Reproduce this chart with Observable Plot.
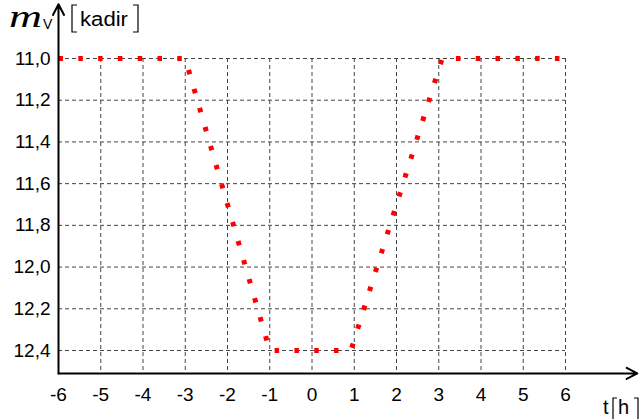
<!DOCTYPE html>
<html>
<head>
<meta charset="utf-8">
<script src="https://cdn.jsdelivr.net/npm/d3@7"></script>
<script src="https://cdn.jsdelivr.net/npm/@observablehq/plot@0.6"></script>
<style>
  html, body { margin: 0; padding: 0; background: #fff; }
</style>
</head>
<body>
<div id="chart"></div>
<script>
// Data
const t  = [-6, -3, -1, 0.92, 3.08, 6];
const mV = [11.0, 11.0, 12.4, 12.4, 11.0, 11.0];
const xTicks = [-6, -5, -4, -3, -2, -1, 0, 1, 2, 3, 4, 5, 6];
const yTicks = [11.0, 11.2, 11.4, 11.6, 11.8, 12.0, 12.2, 12.4];
const yAxisLabel = "m";
const yAxisSub = "V";
const yAxisUnit = "kadir";
const xAxisLabel = "t";
const xAxisUnit = "h";

const data = t.map((d, i) => ({t: d, mV: mV[i]}));

const yAxisBottom = 12.51, yAxisTop = 10.74, xAxisRight = 7.7;
const font = "'Liberation Sans', Arial, sans-serif";

const chart = Plot.plot({
  width: 641,
  height: 419,
  marginLeft: 58,
  marginRight: 76,
  marginTop: 58,
  marginBottom: 69,
  x: {domain: [-6, 6], label: null},
  y: {domain: [11.0, 12.4], reverse: true, label: null},
  style: {fontFamily: font, fontSize: "19px", color: "#000", background: "#fff", overflow: "visible"},
  marks: [
    Plot.ruleX(xTicks.filter(d => d > -6), {y1: 11.0, y2: yAxisBottom, stroke: "#444", strokeWidth: 1, strokeDasharray: "4,3"}),
    Plot.ruleY(yTicks, {x1: -6, x2: 6, stroke: "#444", strokeWidth: 1, strokeDasharray: "4,3"}),
    Plot.line(data, {x: "t", y: "mV", stroke: "#ff0000", strokeWidth: 5, strokeDasharray: "4.5,15.3", strokeLinecap: "butt", strokeLinejoin: "miter"}),
    Plot.arrow([0], {x1: -6, y1: yAxisBottom, x2: -6, y2: yAxisTop, stroke: "#000", strokeWidth: 2, headLength: 9, headAngle: 55}),
    Plot.arrow([0], {x1: -6, y1: yAxisBottom, x2: xAxisRight, y2: yAxisBottom, stroke: "#000", strokeWidth: 2, headLength: 9, headAngle: 55}),
    Plot.axisX({ticks: xTicks, tickSize: 0, tickPadding: 37, tickFormat: d => String(d), fontSize: 19, label: null}),
    Plot.axisY({ticks: yTicks, tickSize: 0, tickPadding: 8, tickFormat: d => d.toFixed(1).replace(".", ","), fontSize: 19, label: null})
  ]
});

document.getElementById("chart").appendChild(chart);

// Axis titles with bracketed units
const svg = d3.select(chart);
const g = svg.append("g").attr("fill", "#000").attr("text-anchor", "start");
g.append("text").text(yAxisLabel)
  .attr("x", 9).attr("y", 27)
  .attr("font-family", "'Liberation Serif', 'Times New Roman', serif")
  .attr("font-style", "italic").attr("font-size", 31)
  .attr("textLength", 33).attr("lengthAdjust", "spacingAndGlyphs");
g.append("text").text(yAxisSub)
  .attr("x", 43).attr("y", 29)
  .attr("font-family", font).attr("font-size", 14);
g.append("text").text(yAxisUnit)
  .attr("x", 80).attr("y", 26)
  .attr("font-family", font).attr("font-size", 20)
  .attr("textLength", 48).attr("lengthAdjust", "spacingAndGlyphs");
g.append("text").text(xAxisLabel)
  .attr("x", 603).attr("y", 414)
  .attr("font-family", font).attr("font-size", 20);
g.append("text").text(xAxisUnit)
  .attr("x", 618).attr("y", 414)
  .attr("font-family", font).attr("font-size", 20);

const br = svg.append("g").attr("fill", "none").attr("stroke", "#000").attr("stroke-width", 1.2);
br.append("path").attr("d", "M77,5H72V32H77");
br.append("path").attr("d", "M133,5H138V32H133");
br.append("path").attr("d", "M617,398H613V421H617");
br.append("path").attr("d", "M634,398H638V421H634");
</script>
</body>
</html>
